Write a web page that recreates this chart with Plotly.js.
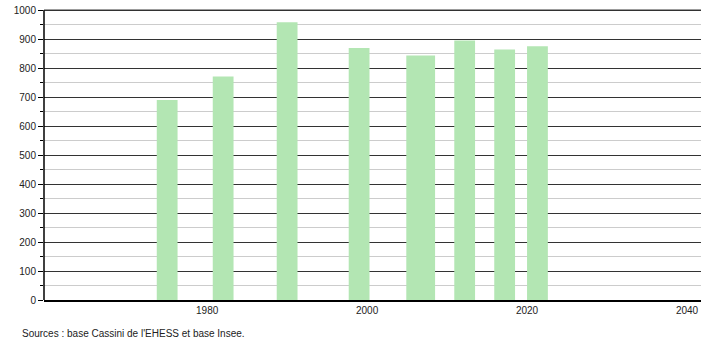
<!DOCTYPE html>
<html><head><meta charset="utf-8">
<script src="https://cdn.plot.ly/plotly-3.0.1.min.js"></script>
<style>body{margin:0}#c{width:710px;height:340px}</style>
</head><body><div id="c"></div>
<script>
const years = [1975, 1982, 1990, 1999, 2006.7, 2012.2, 2017.2, 2021.3];
const population = [690, 771, 958, 869, 843, 895, 864, 875];
const barWidths = [2.6, 2.6, 2.6, 2.6, 3.6, 2.6, 2.6, 2.6];
const xTicks = [1980, 2000, 2020, 2040];
const yTicks = [0,100,200,300,400,500,600,700,800,900,1000];
const source = "Sources : base Cassini de l'EHESS et base Insee.";

Plotly.newPlot('c', [{
  type: 'bar', x: years, y: population, width: barWidths,
  marker: {color: '#b3e6b3', line: {width: 0}},
  hoverinfo: 'x+y'
}], {
  width: 710, height: 340,
  margin: {l: 44, r: 9, t: 8, b: 40},
  paper_bgcolor: '#fff', plot_bgcolor: '#fff',
  font: {family: 'Liberation Sans, Arial, sans-serif', size: 10, color: '#222'},
  showlegend: false,
  xaxis: {range: [1959.6, 2041.75], tickvals: xTicks, ticktext: xTicks.map(String),
    showgrid: false, zeroline: false, showline: true, linecolor: '#000', linewidth: 1.5,
    ticks: '', tickfont: {size: 10, color: '#222'}},
  yaxis: {range: [0, 1007], tickvals: yTicks, showgrid: true, gridcolor: '#333', gridwidth: 1,
    zeroline: false, showline: false,
    ticks: 'outside', ticklen: 5, tickcolor: '#000', tickfont: {size: 10, color: '#222'},
    minor: {dtick: 50, showgrid: true, gridcolor: '#cccccc', gridwidth: 1, ticks: 'outside', ticklen: 3, tickcolor: '#000'}},
  shapes: [
    {type: 'line', xref: 'paper', yref: 'y', x0: 0, x1: 0, y0: 0, y1: 1000,
      line: {color: '#000', width: 1.5}, layer: 'above'},
    {type: 'line', xref: 'paper', yref: 'y', x0: 0, x1: 1, y0: 1000, y1: 1000,
      line: {color: '#333', width: 1}, layer: 'above'}
  ],
  annotations: [{text: source, xref: 'paper', yref: 'paper', x: -0.037, y: -0.09, xanchor: 'left', yanchor: 'top',
    showarrow: false, font: {size: 10, color: '#222'}}]
}, {staticPlot: true});
</script></body></html>
